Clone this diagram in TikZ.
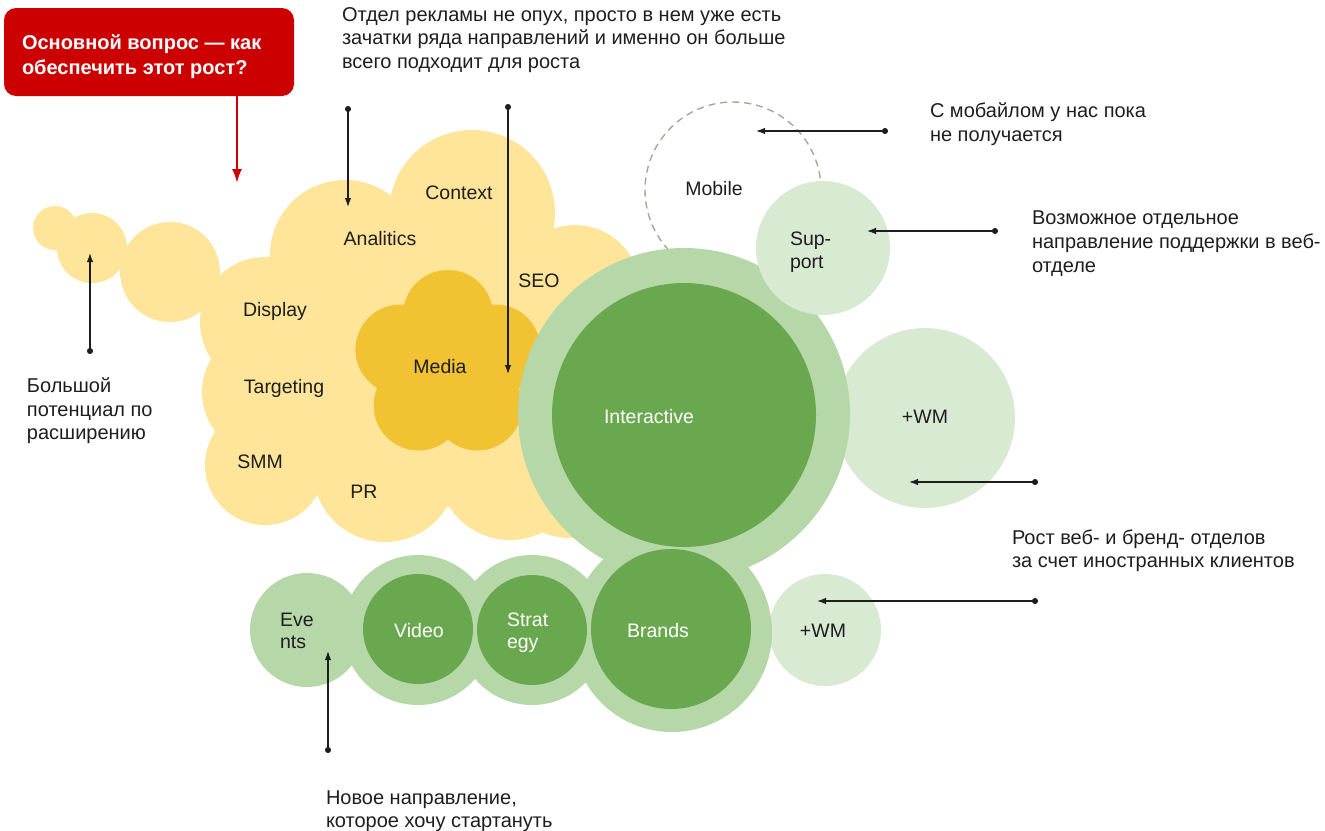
\documentclass[tikz,border=0pt]{standalone}
\usepackage{fontspec}
\setmainfont{Liberation Sans}
\usetikzlibrary{arrows.meta}
\definecolor{cloudY}{HTML}{FFE599}
\definecolor{mediaY}{HTML}{F1C232}
\definecolor{ringG}{HTML}{B6D7A8}
\definecolor{darkG}{HTML}{6AA84F}
\definecolor{paleG}{HTML}{D9EAD3}
\definecolor{qRed}{HTML}{CC0000}
\definecolor{ink}{HTML}{1E1E1E}
\definecolor{dashGray}{HTML}{A2A89A}
\begin{document}
\begin{tikzpicture}[x=1pt, y=-1pt,
  every node/.style={inner sep=0pt, outer sep=0pt},
  txt/.style={font=\fontsize{19.5}{23.5}\selectfont, text=ink},
  lbl/.style={txt, anchor=base},
  wlbl/.style={lbl, text=white},
  lblw/.style={txt, anchor=base west},
  wlblw/.style={lblw, text=white},
  noteline/.style={anchor=base west, text=ink, font=\fontsize{20}{24}\selectfont},
  qline/.style={anchor=base west, text=white, font=\fontsize{20}{24}\selectfont\bfseries},
  bubble/.style={circle, minimum size=#1},
  ringc/.style={bubble=#1, fill=ringG},
  darkc/.style={bubble=#1, fill=darkG},
  palec/.style={bubble=#1, fill=paleG},
  pointer/.style={draw=ink, line width=1.2pt, {Circle[length=6pt]}-{Latex[length=9pt, width=6.5pt]}},
  redpointer/.style={draw=qRed, line width=2pt, -{Latex[length=14pt, width=10pt]}},
]
\useasboundingbox (0,0) rectangle (1325,830);

% advertising department: a cloud built from overlapping discs
\foreach \cx/\cy/\r in {55/228/22pt, 92/248/35pt, 170/272/50pt,
    265/322/65pt, 267/392/65pt, 265/465/60pt, 385/470/72pt, 510/468/72pt,
    570/468/70pt, 420/370/140pt, 345/255/75pt, 472/213/83pt,
    575/290/65pt, 575/370/70pt}
  \fill[cloudY] (\cx,\cy) circle[radius=\r];

% media: a five-petal flower
\foreach \cx/\cy in {448/315, 495.6/349.5, 477.4/405.5, 418.6/405.5, 400.4/349.5}
  \fill[mediaY] (\cx,\cy) circle[radius=45pt];
\fill[mediaY] (448,365) circle[radius=50pt];

% mobile: not there yet
\node[circle, minimum size=176pt, draw=dashGray, line width=1.4pt,
      dash pattern=on 7pt off 5pt] (mobile) at (733,190) {};

% web and brand departments
\node[palec=180pt] (wmBig) at (925,418) {};
\node[palec=112pt] (wmSmall) at (825,630) {};
\node[ringc=332pt] (interRing) at (684,414) {};
\node[ringc=200pt] (brandRing) at (672,632) {};
\node[ringc=150pt] (videoRing) at (418,630) {};
\node[ringc=150pt] (stratRing) at (532,630) {};
\node[ringc=114pt] (events) at (307,630) {};
\node[palec=134pt] (support) at (823,248) {};
\node[darkc=264pt] (inter) at (684,415) {};
\node[darkc=160pt] (brands) at (671,629) {};
\node[darkc=110pt] (video) at (418,629) {};
\node[darkc=110pt] (strat) at (532,630) {};

% labels inside the shapes
\node[lbl] (tContext) at (459,199) {Context};
\node[lbl] (tAnalitics) at (380,245) {Analitics};
\node[lbl] (tSEO) at (539,287) {SEO};
\node[lbl] (tDisplay) at (275,316) {Display};
\node[lbl] (tTargeting) at (284,393) {Targeting};
\node[lbl] (tSMM) at (260,468) {SMM};
\node[lbl] (tPR) at (364,498) {PR};
\node[lbl] (tMedia) at (440,373) {Media};
\node[lbl] (tMobile) at (714,195) {Mobile};
\node[wlbl] (tInter) at (649,423) {Interactive};
\node[lblw] (tSup) at (790,245) {Sup-};
\node[lblw] (tPort) at (790,268) {port};
\node[lbl] (tWmBig) at (925,423) {+WM};
\node[lblw] (tEve) at (280,626) {Eve};
\node[lblw] (tNts) at (280,648) {nts};
\node[wlbl] (tVideo) at (419,637) {Video};
\node[wlblw] (tStrat) at (507,626) {Strat};
\node[wlblw] (tEgy) at (507,648) {egy};
\node[wlbl] (tBrands) at (658,637) {Brands};
\node[lbl] (tWmSmall) at (823,637) {+WM};

% the main question
\node[fill=qRed, rounded corners=12pt, minimum width=290pt, minimum height=88pt]
  (question) at (149,52) {};
\node[qline] (q1) at (22,49) {Основной вопрос — как};
\node[qline] (q2) at (22,74) {обеспечить этот рост?};
\coordinate (qTip) at (237,183);
\draw[redpointer] (question.south -| qTip) -- (qTip);

% comments
\node[noteline] (n1a) at (342,21) {Отдел рекламы не опух, просто в нем уже есть};
\node[noteline] (n1b) at (342,44.5) {зачатки ряда направлений и именно он больше};
\node[noteline] (n1c) at (342,68) {всего подходит для роста};
\node[noteline] (n2a) at (930,117) {С мобайлом у нас пока};
\node[noteline] (n2b) at (930,141) {не получается};
\node[noteline] (n3a) at (1032,224) {Возможное отдельное};
\node[noteline] (n3b) at (1032,248) {направление поддержки в веб-};
\node[noteline] (n3c) at (1032,272) {отделе};
\node[noteline] (n4a) at (1012,544) {Рост веб- и бренд- отделов};
\node[noteline] (n4b) at (1012,567) {за счет иностранных клиентов};
\node[noteline] (n5a) at (27,392) {Большой};
\node[noteline] (n5b) at (27,416) {потенциал по};
\node[noteline] (n5c) at (27,439) {расширению};
\node[noteline] (n6a) at (326,804) {Новое направление,};
\node[noteline] (n6b) at (326,827) {которое хочу стартануть};

% pointers from the comments
\coordinate (anaDot) at (348,106);  \coordinate (anaTip) at (348,207);
\coordinate (medDot) at (508,104);  \coordinate (medTip) at (508,374);
\coordinate (mobDot) at (888,131);  \coordinate (mobTip) at (756,131);
\coordinate (supDot) at (998,231);  \coordinate (supTip) at (867,231);
\coordinate (wmbDot) at (1038,482); \coordinate (wmbTip) at (909,482);
\coordinate (wmsDot) at (1038,601); \coordinate (wmsTip) at (817,601);
\coordinate (tailDot) at (90,354);  \coordinate (tailTip) at (90,253);
\coordinate (evDot) at (328,753);   \coordinate (evTip) at (328,651);
\draw[pointer] (anaDot) -- (anaTip);
\draw[pointer] (medDot) -- (medTip);
\draw[pointer] (mobDot) -- (mobTip);
\draw[pointer] (supDot) -- (supTip);
\draw[pointer] (wmbDot) -- (wmbTip);
\draw[pointer] (wmsDot) -- (wmsTip);
\draw[pointer] (tailDot) -- (tailTip);
\draw[pointer] (evDot) -- (evTip);
\end{tikzpicture}
\end{document}
